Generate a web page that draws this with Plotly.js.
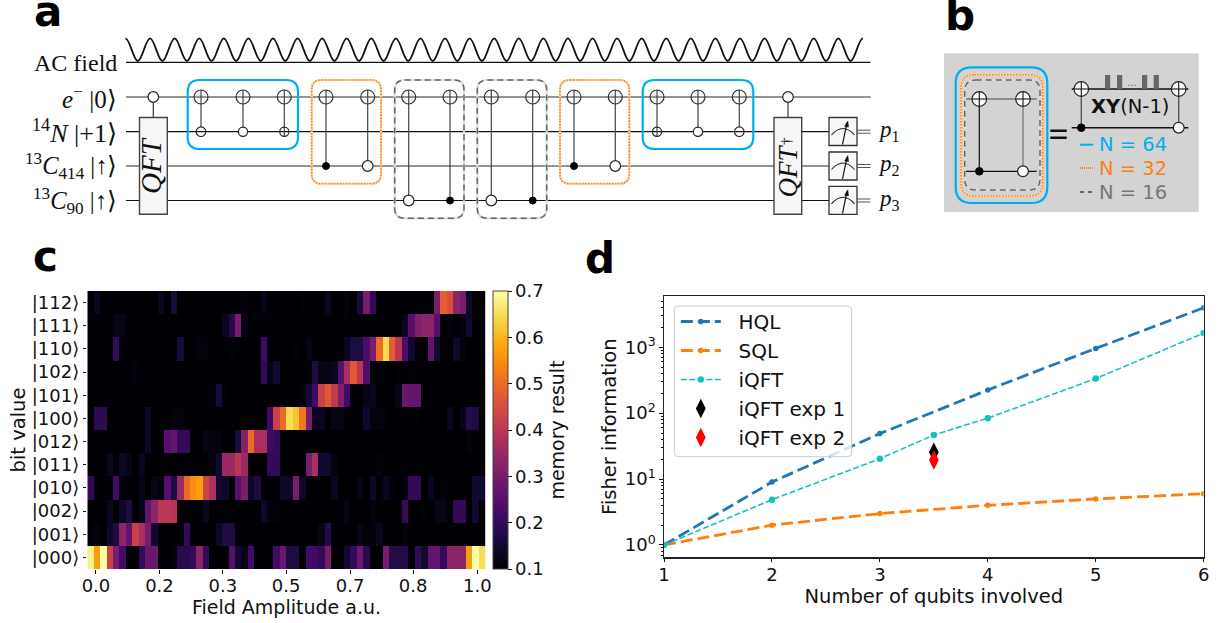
<!DOCTYPE html>
<html><head><meta charset="utf-8">
<script src="https://cdn.plot.ly/plotly-3.0.1.min.js"></script>
<style>html,body{margin:0;padding:0;background:#fff}#g{width:1225px;height:623px}</style>
</head><body><div id="g"></div>
<script>
// ---------- panel c data ----------
const bitLabels=['|000⟩','|001⟩','|002⟩','|010⟩','|011⟩','|012⟩','|100⟩','|101⟩','|102⟩','|110⟩','|111⟩','|112⟩'];
const fieldTickLabels=['0.0','0.2','0.3','0.5','0.7','0.8','1.0'];
const fieldTickCols=[0.85,10.73,20.6,30.45,40.4,50.2,60.2];
const r000=[.68,.57,.70,.42,.30,.22,.08,.08,.20,.28, .28,.08,.08,.11,.18,.18,.20,.33,.20,.08, .08,.08,.25,.15,.12,.22,.08,.08,.08,.22, .28,.17,.17,.08,.22,.22,.20,.30,.08,.08, .15,.20,.28,.18,.08,.08,.30,.18,.18,.18, .08,.20,.15,.27,.27,.20,.33,.33,.33,.57, .70,.65];
const r001=[.08,.11,.08,.14,.17,.33,.27,.42,.37,.30, .15,.08,.08,.08,.08,.20,.08,.08,.08,.08, .14,.17,.17,.08,.08,.08,.08,.08,.08,.08, .08,.08,.08,.08,.08,.08,.12,.18,.08,.08, .08,.08,.12,.105,.11,.13,.08,.08,.08,.11, .08,.08,.08,.08,.08,.08,.08,.08,.08,.08, .08,.08];
const r002=[.08,.08,.08,.13,.08,.14,.17,.08,.12,.27, .33,.40,.40,.39,.105,.08,.08,.08,.13,.08, .08,.08,.08,.08,.08,.08,.08,.14,.11,.105, .08,.08,.08,.08,.105,.08,.08,.08,.08,.08, .12,.08,.08,.08,.11,.08,.08,.08,.08,.20, .08,.08,.105,.08,.12,.12,.08,.20,.20,.08, .15,.08];
const r010=[.20,.105,.08,.08,.22,.08,.105,.08,.12,.08, .12,.11,.25,.17,.35,.50,.55,.57,.43,.38, .15,.14,.08,.25,.30,.14,.17,.08,.08,.08, .14,.14,.30,.14,.08,.08,.08,.08,.13,.08, .08,.08,.12,.08,.14,.08,.13,.11,.08,.11, .20,.20,.08,.13,.08,.105,.08,.08,.08,.08, .15,.15];
const r011=[.08,.08,.08,.13,.08,.14,.12,.08,.13,.08, .08,.08,.08,.08,.08,.08,.08,.08,.08,.11, .15,.35,.35,.40,.35,.105,.08,.08,.20,.20, .08,.08,.08,.08,.30,.37,.15,.15,.11,.08, .08,.08,.08,.08,.08,.11,.08,.08,.08,.08, .08,.08,.08,.08,.08,.08,.08,.08,.08,.08, .08,.08];
const r012=[.08,.08,.08,.08,.08,.08,.08,.08,.08,.14, .08,.08,.25,.27,.20,.20,.08,.08,.12,.11, .11,.08,.08,.16,.32,.50,.37,.37,.22,.20, .08,.08,.08,.08,.08,.08,.08,.08,.08,.08, .08,.08,.08,.08,.08,.08,.08,.08,.08,.08, .08,.08,.08,.08,.08,.08,.08,.08,.08,.11, .08,.08];
const r100=[.08,.19,.19,.08,.08,.105,.08,.08,.08,.14, .08,.08,.08,.11,.11,.08,.08,.08,.08,.08, .08,.08,.08,.08,.08,.08,.08,.08,.22,.42, .50,.65,.62,.52,.30,.13,.13,.08,.12,.12, .08,.08,.08,.15,.115,.115,.105,.08,.08,.08, .08,.105,.08,.08,.08,.08,.13,.08,.12,.18, .17,.08];
const r101=[.08,.08,.08,.08,.08,.105,.08,.08,.08,.08, .08,.08,.08,.08,.08,.08,.08,.08,.08,.11, .16,.105,.08,.08,.08,.08,.08,.08,.08,.08, .08,.08,.08,.11,.16,.22,.42,.47,.41,.31, .22,.08,.08,.12,.13,.08,.08,.08,.12,.28, .27,.27,.08,.08,.08,.08,.08,.08,.08,.08, .08,.08];
const r102=[.08,.08,.08,.08,.08,.08,.08,.11,.08,.08, .08,.08,.08,.08,.08,.08,.08,.08,.08,.08, .08,.08,.08,.08,.08,.08,.08,.20,.12,.15, .08,.08,.08,.08,.08,.17,.12,.12,.13,.25, .37,.47,.40,.24,.08,.08,.08,.08,.105,.08, .105,.08,.08,.08,.08,.08,.08,.08,.08,.08, .08,.08];
const r110=[.08,.08,.08,.08,.20,.08,.08,.08,.08,.08, .08,.08,.08,.08,.16,.08,.08,.11,.11,.08, .08,.08,.105,.08,.08,.08,.08,.22,.08,.08, .08,.08,.105,.08,.12,.08,.08,.08,.08,.08, .13,.17,.17,.23,.30,.50,.65,.48,.40,.23, .15,.08,.08,.27,.15,.08,.08,.14,.11,.08, .08,.08];
const r111=[.08,.08,.08,.08,.12,.12,.08,.08,.08,.08, .08,.08,.08,.08,.08,.08,.08,.08,.08,.08, .08,.13,.18,.30,.12,.08,.08,.08,.08,.08, .08,.08,.08,.08,.08,.08,.08,.08,.08,.08, .105,.08,.08,.08,.08,.08,.08,.08,.08,.13, .25,.31,.33,.33,.25,.08,.11,.08,.11,.15, .08,.08];
const r112=[.08,.13,.08,.08,.08,.08,.08,.08,.10,.08, .08,.13,.08,.16,.08,.08,.08,.08,.08,.08, .08,.08,.08,.08,.11,.08,.08,.12,.08,.08, .08,.08,.08,.105,.08,.08,.08,.13,.08,.08, .11,.08,.16,.30,.20,.08,.08,.08,.08,.08, .08,.08,.08,.08,.30,.48,.45,.33,.30,.14, .08,.08];
const memoryRows=[r000,r001,r002,r010,r011,r012,r100,r101,r102,r110,r111,r112];
const memoryTicks=[.1,.2,.3,.4,.5,.6,.7];

// ---------- panel d data ----------
const qubits=[1,2,3,4,5,6];
const hql=[1,9,49,225,961,3969];
const sql=[1,2,3,4,5,6];
const iqftX=[1,2,3,3.5,4,5,6];
const iqft=[1,4.87,20.4,46.7,84,335,1640];
const exp1=[25.5], exp2=[19.5], expX=[3.5];

// ---------- helpers (pixel -> paper) ----------
const W=1225,H=623,X=p=>p/W,Y=p=>1-p/H;
const S=[],A=[];
const line=(x0,y0,x1,y1,c='#000',w=1.2,dash='solid')=>S.push({type:'line',xref:'paper',yref:'paper',x0:X(x0),y0:Y(y0),x1:X(x1),y1:Y(y1),line:{color:c,width:w,dash}});
const rect=(x0,y0,x1,y1,fill,c,w=1.2)=>S.push({type:'rect',xref:'paper',yref:'paper',x0:X(x0),y0:Y(y0),x1:X(x1),y1:Y(y1),fillcolor:fill,line:{color:c||'rgba(0,0,0,0)',width:c?w:0}});
const circ=(x,y,r,fill,c='#222',w=1.2)=>S.push({type:'circle',xref:'paper',yref:'paper',x0:X(x-r),y0:Y(y-r),x1:X(x+r),y1:Y(y+r),fillcolor:fill,line:{color:c,width:w}});
const pth=(d,c,w=1.5,fill='rgba(0,0,0,0)',dash='solid')=>S.push({type:'path',xref:'paper',yref:'paper',path:d,fillcolor:fill,line:{color:c,width:w,dash}});
const P=(x,y)=>X(x)+','+Y(y);
const rr=(x0,y0,x1,y1,r)=>'M'+P(x0+r,y0)+'L'+P(x1-r,y0)+'Q'+P(x1,y0)+' '+P(x1,y0+r)+'L'+P(x1,y1-r)+'Q'+P(x1,y1)+' '+P(x1-r,y1)+'L'+P(x0+r,y1)+'Q'+P(x0,y1)+' '+P(x0,y1-r)+'L'+P(x0,y0+r)+'Q'+P(x0,y0)+' '+P(x0+r,y0)+'Z';
const txt=(x,y,text,size,color='#000',o={})=>A.push(Object.assign({xref:'paper',yref:'paper',x:X(x),y:Y(y),text,showarrow:false,xanchor:'left',yanchor:'middle',borderpad:0,font:{family:'DejaVu Sans',size,color}},o));
const serif='Liberation Serif';
const BLUE='#00aeef',ORANGE='#ff7f0e',GRAY='#666666';
const blueBox=(a,b,c,d,r=10)=>pth(rr(a,b,c,d,r),BLUE,2.2);
const orangeBox=(a,b,c,d,r=10)=>{pth(rr(a,b,c,d,r),'#ffd5ad',2.2);pth(rr(a,b,c,d,r),ORANGE,1.6,'rgba(0,0,0,0)','1.5px,1.5px');};
const grayBox=(a,b,c,d,r=10)=>{pth(rr(a,b,c,d,r),'#dddddd',2.2);pth(rr(a,b,c,d,r),GRAY,1.5,'rgba(0,0,0,0)','6px,4px');};

// ---------- panel a ----------
const wY=[97,131.7,166,200.5];
const waveCycles=30;
{ let d='M'+P(125.5,38.3),x=125.5,h=12.29;
  for(let i=0;i<waveCycles;i++){
    d+='C'+P(x+h*.36,38.3)+' '+P(x+h*.64,61)+' '+P(x+h,61);x+=h;
    d+='C'+P(x+h*.36,61)+' '+P(x+h*.64,38.3)+' '+P(x+h,38.3);x+=h;
  }
  pth(d,'#111',1.8);
}
line(126,62.3,870.5,62.3,'#111',1.3);
line(126,wY[0],870.5,wY[0],'#707070',1.6);
line(126,wY[1],829,wY[1],'#111',1.2);
line(126,wY[2],829,wY[2],'#707070',1.6);
line(126,wY[3],829,wY[3],'#111',1.2);
const plus=(x,y,r)=>{circ(x,y,r,'rgba(0,0,0,0)','#333',1.2);};
const ctrl=(x,yb,kind)=>{
  line(x,wY[0]-7,x,yb,'#444',1.2);
  plus(x,wY[0],7);
  if(kind==='b')circ(x,yb,3.5,'#000','#000',1);
  if(kind==='w')circ(x,yb,5.3,'#fff','#222',1.2);
  if(kind==='n')circ(x,yb,4.6,'#fff','#222',1.2);
};
// QFT boxes with controls
line(153.3,wY[0],153.3,117.5,'#333',1.2); circ(153.3,wY[0],5.3,'#fff');
rect(139.5,117.5,167.3,214.3,'#f6f6f6','#444',1.4);
line(788,wY[0],788,117.5,'#555',1.4); circ(788,wY[0],5.3,'#fff');
rect(774,117.5,801.7,214.3,'#f6f6f6','#444',1.4);
// block 1..6
blueBox(187.7,80,298,149,12);
ctrl(201,wY[1]-4.8,'none');circ(201,wY[1],4.8,'rgba(0,0,0,0)');ctrl(243,wY[1],'n');ctrl(284.3,wY[1]+4.6,'none');circ(284.3,wY[1],4.6,'rgba(0,0,0,0)');
orangeBox(311.7,80,381,183.7);
ctrl(326,wY[2],'b');ctrl(367.7,wY[2],'w');
grayBox(394.7,80,464,218.3);
ctrl(408.7,wY[3],'w');ctrl(450,wY[3],'b');
grayBox(477.3,80,546.7,218.3);
ctrl(491.3,wY[3],'w');ctrl(532.7,wY[3],'b');
orangeBox(560,80,629.3,183.7);
ctrl(574,wY[2],'b');ctrl(615.3,wY[2],'w');
blueBox(642.7,80,753.3,149,12);
ctrl(657,wY[1]+4.6,'none');circ(657,wY[1],4.6,'rgba(0,0,0,0)');ctrl(698,wY[1],'n');ctrl(739.3,wY[1]-4.8,'none');circ(739.3,wY[1],4.8,'rgba(0,0,0,0)');
// meters
[117.5,152,186.3].forEach((y,i)=>{
  rect(829,y,857,y+28,'#f8f8f8','#333',1.3);
  pth('M'+P(831.5,y+17.5)+'Q'+P(843,y+4.5)+' '+P(854.5,y+17.5),'#222',1.1);
  line(842.5,y+27,847,y+5,'#111',1.2);
  pth('M'+P(847.8,y+3.5)+'L'+P(844.6,y+9)+'L'+P(848.6,y+9.6)+'Z','#111',.5,'#111');
  line(857,wY[i+1]-1.5,870.5,wY[i+1]-1.5,'#555',1);
  line(857,wY[i+1]+1.5,870.5,wY[i+1]+1.5,'#555',1);
  txt(877,wY[i+1]-1,'<i>p</i><sub>'+(i+1)+'</sub>',23,'#111',{font:{family:serif,size:23,color:'#111'}});
});
const sf=s=>({xanchor:'right',font:{family:serif,size:s,color:'#111'}});
txt(118,63,'AC field',24,'#111',sf(24));
txt(118,97,'<i>e</i><sup>−</sup> |0⟩',25,'#111',sf(25));
txt(118,131.5,'<sup>14</sup><i>N</i> |+1⟩',26,'#111',sf(26));
txt(118,166,'<sup>13</sup><i>C</i><sub>414</sub> |↑⟩',24.5,'#111',sf(24.5));
txt(118,200.5,'<sup>13</sup><i>C</i><sub>90</sub> |↑⟩',24.5,'#111',sf(24.5));
txt(151.4,165.5,'<i>QFT</i>',29,'#111',{xanchor:'center',textangle:-90,font:{family:serif,size:29,color:'#111'}});
txt(787.5,171,'<i>QFT</i>',27,'#111',{xanchor:'center',textangle:-90,font:{family:serif,size:27,color:'#111'}});
txt(785.5,141.5,'†',15,'#111',{xanchor:'center',textangle:-90,font:{family:serif,size:15,color:'#111'}});

// ---------- panel b ----------
rect(944,53.3,1198.7,212,'#d3d3d3');
blueBox(955.7,67.3,1047.3,203,16);
orangeBox(961,74.7,1042.7,196,13);
grayBox(964.7,80,1040,190,11);
line(966,99,1036.7,99,'#777',1.6);
line(966,171.3,1036.7,171.3,'#111',1.2);
line(979.3,99,979.3,171.3,'#111',1.2);
line(1023,99,1023,171.3,'#777',1.3);
const oplus=(x,y)=>{circ(x,y,7.3,'#fff','#222',1.2);line(x-7.3,y,x+7.3,y,'#222',1.2);line(x,y-7.3,x,y+7.3,'#222',1.2);};
oplus(979.3,99);oplus(1023,99);
circ(979.3,171.3,3.8,'#000','#000',1);circ(1023,171.3,5.4,'#fff','#222',1.2);
rect(1050.3,129.5,1066.7,132,'#111');rect(1050.3,136.5,1066.7,139,'#111');
line(1071.7,89,1188.3,89,'#111',1.5);
line(1071.7,127.7,1188.3,127.7,'#111',1.5);
line(1081.3,89,1081.3,127.7,'#555',1.4);
line(1178.7,89,1178.7,127.7,'#555',1.4);
oplus(1081.3,89);oplus(1178.7,89);
circ(1081.3,127.7,3.8,'#000','#000',1);circ(1178.7,127.7,5.4,'#fff','#222',1.2);
[1105,1117,1142,1153.7].forEach(x=>rect(x,75,x+5.2,89,'#666666'));
txt(1132,82,'...',10,'#666',{xanchor:'center'});
txt(1130,107,'<b>XY</b>(N-1)',19.5,'#111',{xanchor:'center'});
line(1080,144.7,1093.3,144.7,BLUE,2);
line(1080,168,1093.3,168,ORANGE,2,'1px,1px');
line(1080,192,1093.3,192,GRAY,2,'4px,4px');
txt(1097.5,145,'N = 64',19.5,BLUE);
txt(1097.5,168.5,'N = 32',19.5,ORANGE);
txt(1097.5,192.5,'N = 16',19.5,'#777');

// ---------- panel letters ----------
const lab=(x,y,t)=>txt(x,y,'<b>'+t+'</b>',42,'#000');
lab(33,12,'a');lab(944,15,'b');lab(32,256,'c');lab(584,258,'d');

// ---------- panel d legend frame (rounded, as in the figure) ----------
pth(rr(674.3,306,851.7,456.7,4),'#cccccc',1,'rgba(255,255,255,.8)');

// ---------- traces ----------
const inferno=[[0,'#000004'],[.1,'#160b39'],[.2,'#420a68'],[.3,'#6a176e'],[.4,'#932667'],[.5,'#bc3754'],[.6,'#dd513a'],[.7,'#f37819'],[.8,'#fca50a'],[.9,'#f6d746'],[1,'#fcffa4']];
const font={family:'DejaVu Sans',color:'#111'};
const TICK=18,TITLE=19.5;
const traces=[
 {type:'heatmap',z:memoryRows,y:bitLabels,x0:0,dx:1,zmin:.1,zmax:.7,colorscale:inferno,xaxis:'x',yaxis:'y',
  hoverinfo:'skip',
  colorbar:{x:X(493.3),xanchor:'left',xpad:0,ypad:0,thickness:14.7,thicknessmode:'pixels',len:278/H,lenmode:'fraction',y:Y(430),yanchor:'middle',
    tickmode:'array',tickvals:memoryTicks,ticktext:memoryTicks.map(v=>v.toFixed(1)),ticks:'outside',ticklen:3.5,tickwidth:1,tickcolor:'#111',
    tickfont:{...font,size:TICK},outlinewidth:1,outlinecolor:'#444',
    title:{text:'memory result',side:'right',font:{...font,size:TITLE-.5}}}},
 {type:'scatter',mode:'lines+markers',name:'\u00a0\u00a0HQL',legendgroup:'a',x:qubits,y:hql,xaxis:'x2',yaxis:'y2',line:{color:'#1f77b4',width:2.8,dash:'12px,5px'},marker:{color:'#1f77b4',size:5.5}},
 {type:'scatter',mode:'lines+markers',name:'\u00a0\u00a0SQL',legendgroup:'b',x:qubits,y:sql,xaxis:'x2',yaxis:'y2',line:{color:'#ff7f0e',width:2.8,dash:'12px,5px'},marker:{color:'#ff7f0e',size:5.5}},
 {type:'scatter',mode:'lines+markers',name:'\u00a0\u00a0iQFT',legendgroup:'c',x:iqftX,y:iqft,xaxis:'x2',yaxis:'y2',line:{color:'#17bfbf',width:1.6,dash:'6px,2.5px'},marker:{color:'#17bfbf',size:6.5}},
 {type:'scatter',mode:'markers',name:'\u00a0\u00a0iQFT exp 1',legendgroup:'d',x:expX,y:exp1,xaxis:'x2',yaxis:'y2',marker:{color:'#000',symbol:'diamond-tall',size:14}},
 {type:'scatter',mode:'markers',name:'\u00a0\u00a0iQFT exp 2',legendgroup:'e',x:expX,y:exp2,xaxis:'x2',yaxis:'y2',marker:{color:'#ff0000',symbol:'diamond-tall',size:14}}
];
const layout={
 width:W,height:H,margin:{l:0,r:0,t:0,b:0},paper_bgcolor:'#fff',plot_bgcolor:'#fff',font,
 shapes:S,annotations:A,
 xaxis:{domain:[X(87.3),X(485.7)],anchor:'y',range:[-.5,61.5],tickmode:'array',tickvals:fieldTickCols,ticktext:fieldTickLabels,ticks:'outside',ticklen:3.5,ticklabelstandoff:-3,tickcolor:'#111',tickfont:{...font,size:TICK},showgrid:false,zeroline:false,showline:false,
   title:{text:'Field Amplitude a.u.',font:{...font,size:TITLE-.5},standoff:1}},
 yaxis:{domain:[Y(569),Y(291)],anchor:'x',type:'category',ticks:'outside',ticklen:3.5,tickcolor:'#111',tickfont:{...font,size:TICK},showgrid:false,zeroline:false,showline:false,
   title:{text:'bit value',font:{...font,size:TITLE},standoff:0}},
 xaxis2:{domain:[X(664),X(1203.7)],anchor:'y2',range:[1,6],tickvals:qubits,ticks:'outside',ticklen:3.5,ticklabelstandoff:-3,tickcolor:'#111',tickfont:{...font,size:TICK},showgrid:false,zeroline:false,showline:true,mirror:true,linecolor:'#222',linewidth:1.2,
   title:{text:'Number of qubits involved',font:{...font,size:TITLE},standoff:0}},
 yaxis2:{domain:[Y(557.3),Y(296)],anchor:'x2',type:'log',range:[-.187,3.778],tickmode:'array',tickvals:[1,10,100,1000],ticktext:['10<sup>0</sup>','10<sup>1</sup>','10<sup>2</sup>','10<sup>3</sup>'],ticks:'outside',ticklen:3.5,tickcolor:'#111',tickfont:{...font,size:TICK},showgrid:false,zeroline:false,showline:true,mirror:true,linecolor:'#222',linewidth:1.2,
   minor:{tickmode:'array',tickvals:[.7,.8,.9,2,3,4,5,6,7,8,9,20,30,40,50,60,70,80,90,200,300,400,500,600,700,800,900,2000,3000,4000,5000],ticks:'outside',ticklen:2,tickcolor:'#111',showgrid:false},
   title:{text:'Fisher information',font:{...font,size:TITLE},standoff:3}},
 legend:{x:X(675.8),y:Y(302),xanchor:'left',yanchor:'top',bgcolor:'rgba(0,0,0,0)',borderwidth:0,font:{...font,size:20},itemwidth:40,tracegroupgap:3,traceorder:'normal'},
 showlegend:true
};
Plotly.newPlot('g',traces,layout,{displayModeBar:false,staticPlot:true});
</script></body></html>
